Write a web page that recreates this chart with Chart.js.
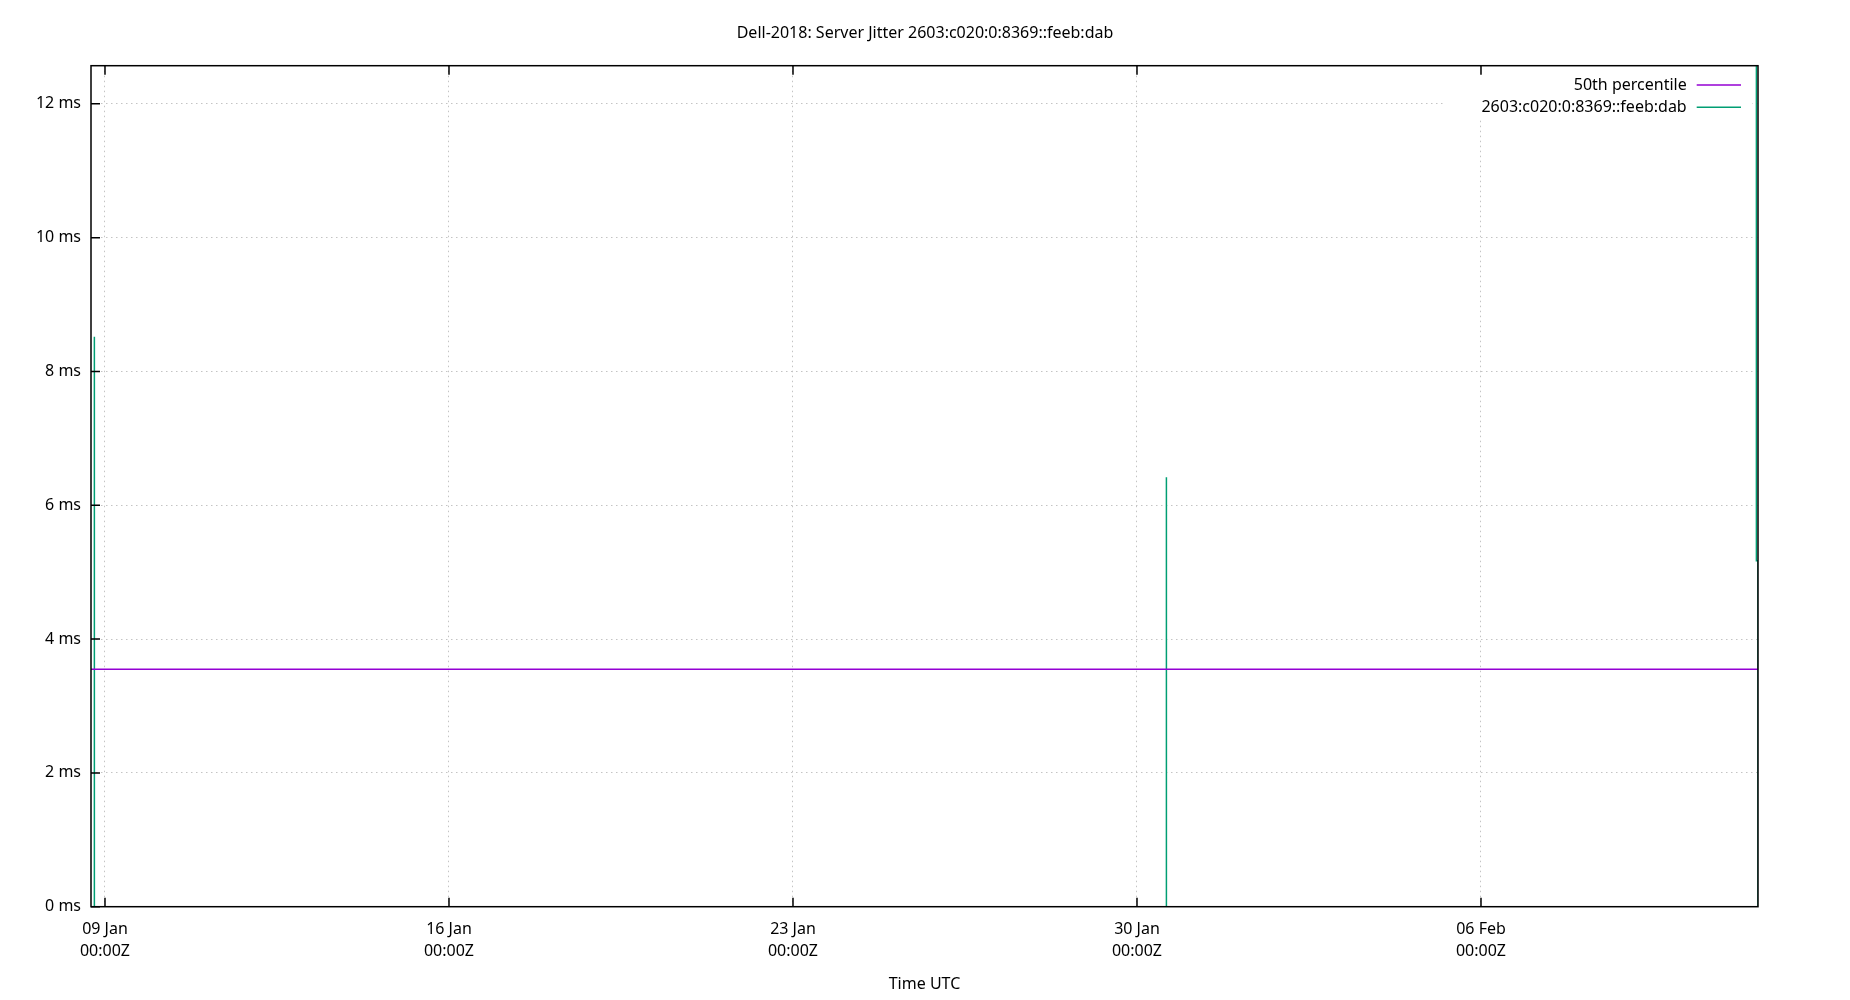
<!DOCTYPE html>
<html>
<head>
<meta charset="utf-8">
<script src="https://cdn.jsdelivr.net/npm/chart.js@4.4.1/dist/chart.umd.min.js"></script>
<style>
  html, body { margin: 0; padding: 0; background: #ffffff; }
  canvas { display: block; }
</style>
</head>
<body>
<canvas id="c" width="1850" height="1000"></canvas>
<script>
// ---------- data ----------
const chartTitle = 'Dell-2018: Server Jitter 2603:c020:0:8369::feeb:dab';
const xAxisTitle = 'Time UTC';
const xRange = ['2019-01-08T17:10Z', '2019-02-11T15:17Z'];
const xTickTimes = ['2019-01-09T00:00Z', '2019-01-16T00:00Z', '2019-01-23T00:00Z', '2019-01-30T00:00Z', '2019-02-06T00:00Z'];
const xTickLabels = [['09 Jan', '00:00Z'], ['16 Jan', '00:00Z'], ['23 Jan', '00:00Z'], ['30 Jan', '00:00Z'], ['06 Feb', '00:00Z']];
const yRange = [0, 12.57];
const yTickValues = [0, 2, 4, 6, 8, 10, 12];
const yUnit = ' ms';

const percentileLabel = '50th percentile';
const percentileTimes = ['2019-01-08T17:10Z', '2019-02-11T15:17Z'];
const percentileValues = [3.55, 3.55];

const jitterLabel = '2603:c020:0:8369::feeb:dab';
const jitterTimes = [
  '2019-01-08T18:44Z', '2019-01-08T18:46Z', '2019-01-08T18:48Z', '2019-01-08T18:50Z', '2019-01-08T18:52Z',
  '2019-01-20T00:00Z',
  '2019-01-30T14:19Z', '2019-01-30T14:21Z', '2019-01-30T14:23Z',
  '2019-02-05T00:00Z',
  '2019-02-11T15:17Z', '2019-02-11T15:17Z', '2019-02-11T14:30Z', '2019-02-11T14:30Z'
];
const jitterValues = [
  0, 5.63, 8.52, 5.33, 0,
  null,
  0, 6.42, 0,
  null,
  0, 5.17, 5.17, 14
];

// ---------- helpers ----------
const t = s => Date.parse(s);
const toPoints = (times, values) => times.map((s, i) => ({ x: t(s), y: values[i] }));

Chart.defaults.font.family = '"Noto Sans", "Open Sans", sans-serif';
Chart.defaults.font.size = 16;
Chart.defaults.color = '#000000';

const framePlugin = {
  id: 'frame',
  afterDatasetsDraw(chart) {
    const ctx = chart.ctx;
    const a = chart.chartArea;
    const xs = chart.scales.x, ys = chart.scales.y;
    ctx.save();
    // key box
    ctx.fillStyle = '#ffffff';
    ctx.fillRect(a.right - 312, a.top + 1, 306, 52);
    ctx.font = '16px "Noto Sans", "Open Sans", sans-serif';
    ctx.textAlign = 'right';
    ctx.textBaseline = 'middle';
    chart.data.datasets.forEach((ds, i) => {
      const y = a.top + 19.3 + i * 22.3;
      ctx.fillStyle = '#000000';
      ctx.fillText(ds.label, a.right - 71.3, y);
      ctx.strokeStyle = ds.borderColor;
      ctx.lineWidth = 1.5;
      ctx.beginPath();
      ctx.moveTo(a.right - 61.3, y);
      ctx.lineTo(a.right - 17, y);
      ctx.stroke();
    });
    // border and inward tics (left, bottom, top)
    ctx.strokeStyle = '#000000';
    ctx.lineWidth = 1.5;
    ctx.strokeRect(a.left, a.top, a.right - a.left, a.bottom - a.top);
    const tl = 9;
    ctx.beginPath();
    xs.ticks.forEach(tk => {
      const px = xs.getPixelForValue(tk.value);
      ctx.moveTo(px, a.bottom); ctx.lineTo(px, a.bottom - tl);
      ctx.moveTo(px, a.top); ctx.lineTo(px, a.top + tl);
    });
    ys.ticks.forEach(tk => {
      const py = ys.getPixelForValue(tk.value);
      ctx.moveTo(a.left, py); ctx.lineTo(a.left + tl, py);
    });
    ctx.stroke();
    ctx.restore();
  }
};

function draw() {
  new Chart(document.getElementById('c'), {
    type: 'line',
    data: {
      datasets: [
        {
          label: percentileLabel,
          data: toPoints(percentileTimes, percentileValues),
          borderColor: '#9400d3',
          borderWidth: 1.5,
          pointRadius: 0,
          tension: 0
        },
        {
          label: jitterLabel,
          data: toPoints(jitterTimes, jitterValues),
          borderColor: '#009e73',
          borderWidth: 1.5,
          pointRadius: 0,
          tension: 0,
          spanGaps: false
        }
      ]
    },
    options: {
      responsive: false,
      animation: false,
      devicePixelRatio: 1,
      layout: { padding: { left: 0, right: 0, top: 0, bottom: 0 } },
      plugins: {
        legend: { display: false },
        tooltip: { enabled: false },
        title: {
          display: true,
          text: chartTitle,
          color: '#000000',
          font: { size: 16, weight: 'normal', lineHeight: 1.2 },
          padding: { top: 23.4, bottom: 23.1 }
        }
      },
      scales: {
        x: {
          type: 'linear',
          min: t(xRange[0]),
          max: t(xRange[1]),
          afterBuildTicks: s => { s.ticks = xTickTimes.map(v => ({ value: t(v) })); },
          afterFit: s => { s.height = 93.3; },
          ticks: {
            autoSkip: false,
            maxRotation: 0,
            padding: 11.1,
            color: '#000000',
            font: { size: 16, lineHeight: 1.4 },
            callback: (v, i) => xTickLabels[i]
          },
          grid: { color: '#c4c4c4', lineWidth: 1, drawTicks: false },
          border: { display: false, dash: [1.5, 3.5] },
          title: {
            display: true,
            text: xAxisTitle,
            color: '#000000',
            font: { size: 16, lineHeight: 1.2 },
            padding: { top: 0, bottom: 6.4 }
          }
        },
        y: {
          type: 'linear',
          position: 'left',
          min: yRange[0],
          max: yRange[1],
          afterBuildTicks: s => { s.ticks = yTickValues.map(v => ({ value: v })); },
          afterFit: s => { s.width = 91; },
          ticks: {
            padding: 10,
            color: '#000000',
            font: { size: 16 },
            callback: v => v + yUnit
          },
          grid: { color: '#c4c4c4', lineWidth: 1, drawTicks: false },
          border: { display: false, dash: [1.5, 3.5] }
        },
        yRight: {
          type: 'linear',
          position: 'right',
          min: yRange[0],
          max: yRange[1],
          afterFit: s => { s.width = 92; },
          ticks: { display: false },
          grid: { display: false, drawTicks: false },
          border: { display: false }
        }
      }
    },
    plugins: [framePlugin]
  });
}

if (document.fonts && document.fonts.load) {
  document.fonts.load('16px "Noto Sans"').then(draw, draw);
} else {
  draw();
}
</script>
</body>
</html>
